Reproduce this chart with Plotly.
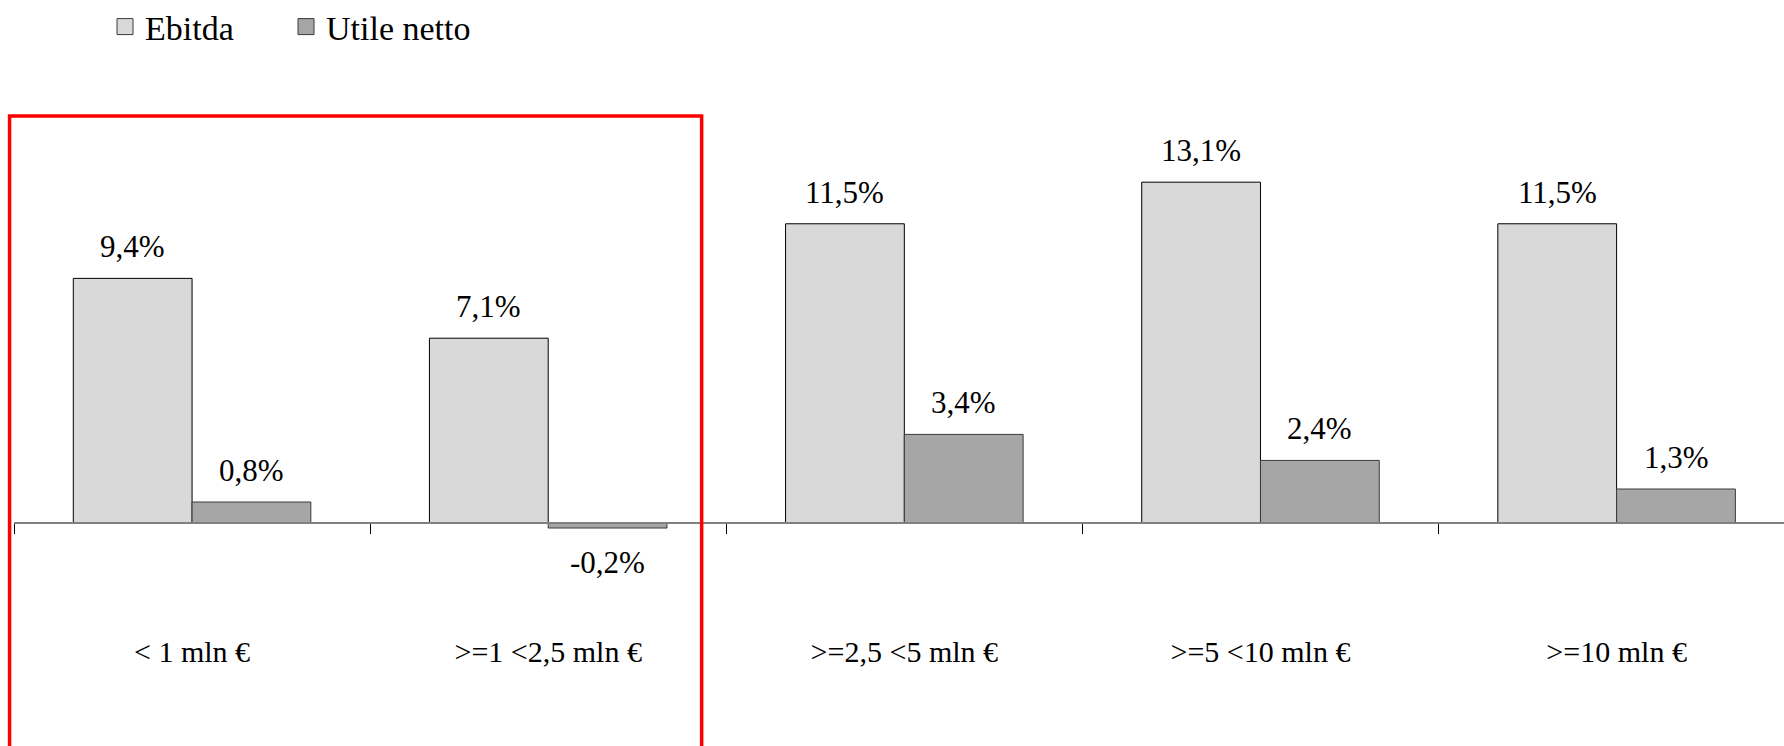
import plotly.graph_objects as go

# Fasce di fatturato e margini (% sui ricavi)
categorie = ["< 1 mln €", ">=1 <2,5 mln €", ">=2,5 <5 mln €", ">=5 <10 mln €", ">=10 mln €"]
ebitda = [9.4, 7.1, 11.5, 13.1, 11.5]
utile_netto = [0.8, -0.2, 3.4, 2.4, 1.3]

FONT = "Liberation Serif"
y_range = [-1.43, 16.26]
x_range = [-0.5, 4.47]
half = 0.167  # half of a single bar width, in category units

stili = {
    "Ebitda": dict(color="#d9d9d9", line=dict(color="#000000", width=1)),
    "Utile netto": dict(color="#a6a6a6", line=dict(color="#3a3a3a", width=1)),
}

fig = go.Figure()
for nome, valori in (("Ebitda", ebitda), ("Utile netto", utile_netto)):
    fig.add_trace(go.Bar(name=nome, x=categorie, y=valori, marker=stili[nome],
                         showlegend=False, legendgroup=nome))

# legend entries with larger square swatches, one legend box per series
for nome, legenda in (("Ebitda", "legend"), ("Utile netto", "legend2")):
    fig.add_trace(go.Scatter(
        name=nome, x=[None], y=[None], mode="markers", legendgroup=nome,
        legend=legenda,
        marker=dict(symbol="square", size=18, color=stili[nome]["color"],
                    line=dict(color="#3a3a3a", width=1)),
    ))


def pct(v):
    return f"{v:.1f}".replace(".", ",") + "%"


annotations = []
for i in range(len(categorie)):
    for serie, off in ((ebitda, -half), (utile_netto, half)):
        v = serie[i]
        annotations.append(dict(
            x=i + off, y=v, xref="x", yref="y", text=pct(v), showarrow=False,
            yanchor="bottom" if v >= 0 else "top",
            yshift=12 if v >= 0 else -15,
            font=dict(family=FONT, size=31, color="#000000"),
        ))

legend_style = dict(
    orientation="h", xref="container", yref="container",
    y=1 - 27 / 746, xanchor="left", yanchor="middle",
    font=dict(family=FONT, size=34, color="#000000"),
    bgcolor="rgba(0,0,0,0)",
)

fig.update_layout(
    width=1784, height=746,
    margin=dict(l=14, r=0, t=100, b=186),
    paper_bgcolor="white", plot_bgcolor="white",
    barmode="group", bargap=0.333, bargroupgap=0,
    font=dict(family=FONT, color="#000000"),
    annotations=annotations,
    showlegend=True,
    legend=dict(x=105 / 1784, **legend_style),
    legend2=dict(x=286 / 1784, **legend_style),
    shapes=[dict(
        type="rect", xref="paper", yref="paper",
        x0=-0.0025, x1=0.3885, y0=-0.5, y1=(746 - 116 - 186) / 460,
        line=dict(color="#ff0000", width=3.5), fillcolor="rgba(0,0,0,0)",
        layer="above",
    )],
)

fig.update_xaxes(
    type="category", range=x_range,
    anchor="free", position=(0 - y_range[0]) / (y_range[1] - y_range[0]),
    showline=True, linecolor="#808080", linewidth=1.5,
    ticks="outside", tickson="boundaries", ticklen=10, tickcolor="#000000", tickwidth=1,
    ticklabelstandoff=102,
    tickfont=dict(family=FONT, size=30, color="#000000"),
    showgrid=False, zeroline=False,
)
fig.update_yaxes(
    range=y_range, visible=False, showgrid=False, zeroline=False,
)

fig.write_html("out.html")
